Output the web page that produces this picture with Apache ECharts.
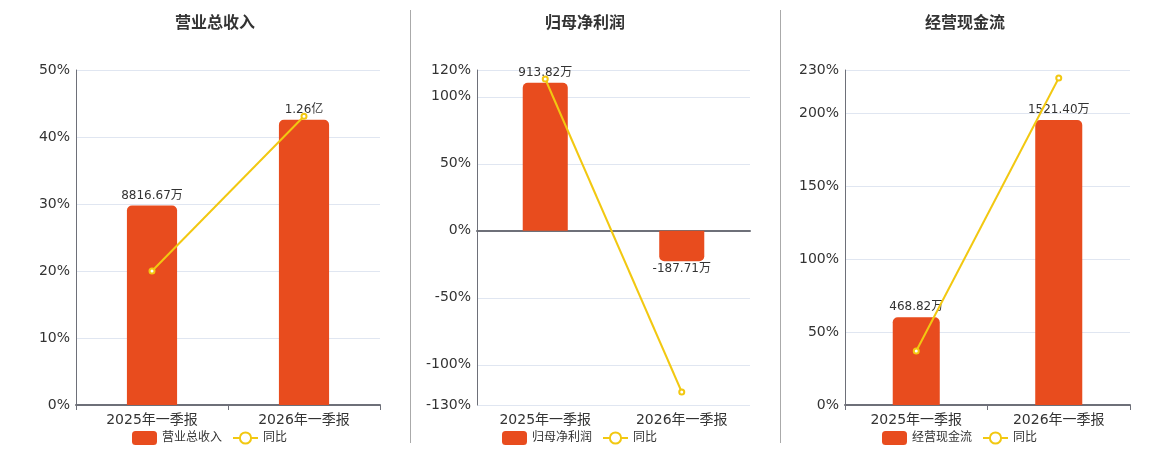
<!DOCTYPE html>
<html>
<head>
    <meta charset="utf-8">
    <title>季报对比</title>
    <script src="https://cdn.jsdelivr.net/npm/echarts@6/dist/echarts.min.js"></script>
    <style>
        html, body {margin:0;padding:0;background:#fff;}
        #chart {width:1160px;height:450px;}
    </style>
</head>
<body>
<div id="chart"></div>
<script>
    // 数据
    const categories = ['2025年一季报', '2026年一季报'];
    const titles = ['营业总收入', '归母净利润', '经营现金流'];
    // 单位：万元
    const revenue = [8816.67, 12600];
    const netProfit = [913.82, -187.71];
    const cashFlow = [468.82, 1521.40];
    // 同比 %
    const revenueYoy = [20.0, 43.1];
    const netProfitYoy = [113.3, -120.3];
    const cashFlowYoy = [37.1, 224.5];
    // 百分比轴范围
    const pctMin = [0, -130, 0];
    const pctMax = [50, 120, 230];

    const FONT = '"DejaVu Sans", "Noto Sans CJK SC", sans-serif';
    const BAR_COLOR = '#e84c1e';
    const LINE_COLOR = '#f2c811';
    const AXIS_COLOR = '#6e7079';

    const grids = [
        {left: 76, right: 780, top: 70, bottom: 45},
        {left: 477, right: 410, top: 70, bottom: 45},
        {left: 845, right: 30, top: 70, bottom: 45}
    ];
    const centers = [210, 580, 960];
    // 柱子隐藏轴的范围（零点与百分比轴对齐）
    const barMin = [0, -1076, 0];
    const barMax = [14800, 993, 1788];
    const barData = [revenue, netProfit, cashFlow];
    const yoyData = [revenueYoy, netProfitYoy, cashFlowYoy];

    function fmtMoney(v) {
        if (Math.abs(v) >= 10000) return (v / 10000).toFixed(2) + '亿';
        return v.toFixed(2) + '万';
    }

    const xAxis = [];
    const yAxis = [];
    const series = [];
    const title = [];
    const legend = [];

    titles.forEach(function (name, i) {
        title.push({
            text: name, left: centers[i], top: 11, textAlign: 'center',
            textStyle: {fontSize: 16, fontWeight: 'bold', color: '#333', fontFamily: FONT}
        });
        // legend 没有居中锚点，按宽度估算左边
        legend.push({
            data: [name, '同比'], left: centers[i] - 83, top: 426,
            itemWidth: 25, itemHeight: 14, itemGap: 10,
            textStyle: {fontSize: 12, color: '#333', fontFamily: FONT}
        });

        const hasNeg = pctMin[i] < 0;
        const labelAxisIndex = xAxis.length;
        xAxis.push({
            type: 'category', gridIndex: i, data: categories,
            axisLine: {show: !hasNeg, lineStyle: {color: AXIS_COLOR, width: 2}},
            axisTick: {show: !hasNeg, lineStyle: {color: AXIS_COLOR}},
            axisLabel: {fontSize: 14, color: '#333', fontFamily: FONT, margin: 8}
        });
        if (hasNeg) {
            // 零线
            xAxis.push({
                type: 'category', gridIndex: i, data: categories, position: 'bottom',
                axisLine: {show: true, onZero: true, lineStyle: {color: AXIS_COLOR, width: 2}},
                axisTick: {show: false},
                axisLabel: {show: false}
            });
        }
        const pctIndex = yAxis.length;
        yAxis.push({
            type: 'value', gridIndex: i, min: pctMin[i], max: pctMax[i],
            axisLine: {show: true, lineStyle: {color: AXIS_COLOR}},
            axisTick: {show: false},
            axisLabel: {formatter: '{value}%', fontSize: 14, color: '#333', fontFamily: FONT, margin: 6},
            splitLine: {lineStyle: {color: '#e0e6f1'}}
        });
        const barIndex = yAxis.length;
        yAxis.push({
            type: 'value', gridIndex: i, min: barMin[i], max: barMax[i], show: false,
            splitLine: {show: false}
        });

        series.push({
            name: name, type: 'bar', xAxisIndex: labelAxisIndex, yAxisIndex: barIndex,
            barWidth: '33%',
            data: barData[i].map(function (v) {
                return {
                    value: v,
                    itemStyle: {borderRadius: v < 0 ? [0, 0, 5, 5] : [5, 5, 0, 0]},
                    label: {position: v < 0 ? 'bottom' : 'top', distance: v < 0 ? 2 : 4}
                };
            }),
            itemStyle: {color: BAR_COLOR},
            label: {
                show: true, fontSize: 12, color: '#333', fontFamily: FONT,
                formatter: function (p) { return fmtMoney(p.value); }
            }
        });
        series.push({
            name: '同比', type: 'line', xAxisIndex: labelAxisIndex, yAxisIndex: pctIndex,
            data: yoyData[i], symbol: 'emptyCircle', symbolSize: 5,
            itemStyle: {color: LINE_COLOR, borderWidth: 1.5},
            lineStyle: {color: LINE_COLOR, width: 2},
            z: 5
        });
    });

    const chart = echarts.init(document.getElementById('chart'));
    chart.setOption({
        animation: false,
        textStyle: {fontFamily: FONT},
        title: title,
        legend: legend,
        grid: grids,
        xAxis: xAxis,
        yAxis: yAxis,
        series: series,
        graphic: [
            {type: 'line', shape: {x1: 410.5, y1: 10, x2: 410.5, y2: 443}, style: {stroke: '#aaa', lineWidth: 1}},
            {type: 'line', shape: {x1: 780.5, y1: 10, x2: 780.5, y2: 443}, style: {stroke: '#aaa', lineWidth: 1}}
        ]
    });
    window.onresize = function () { chart.resize(); };
</script>
</body>
</html>
